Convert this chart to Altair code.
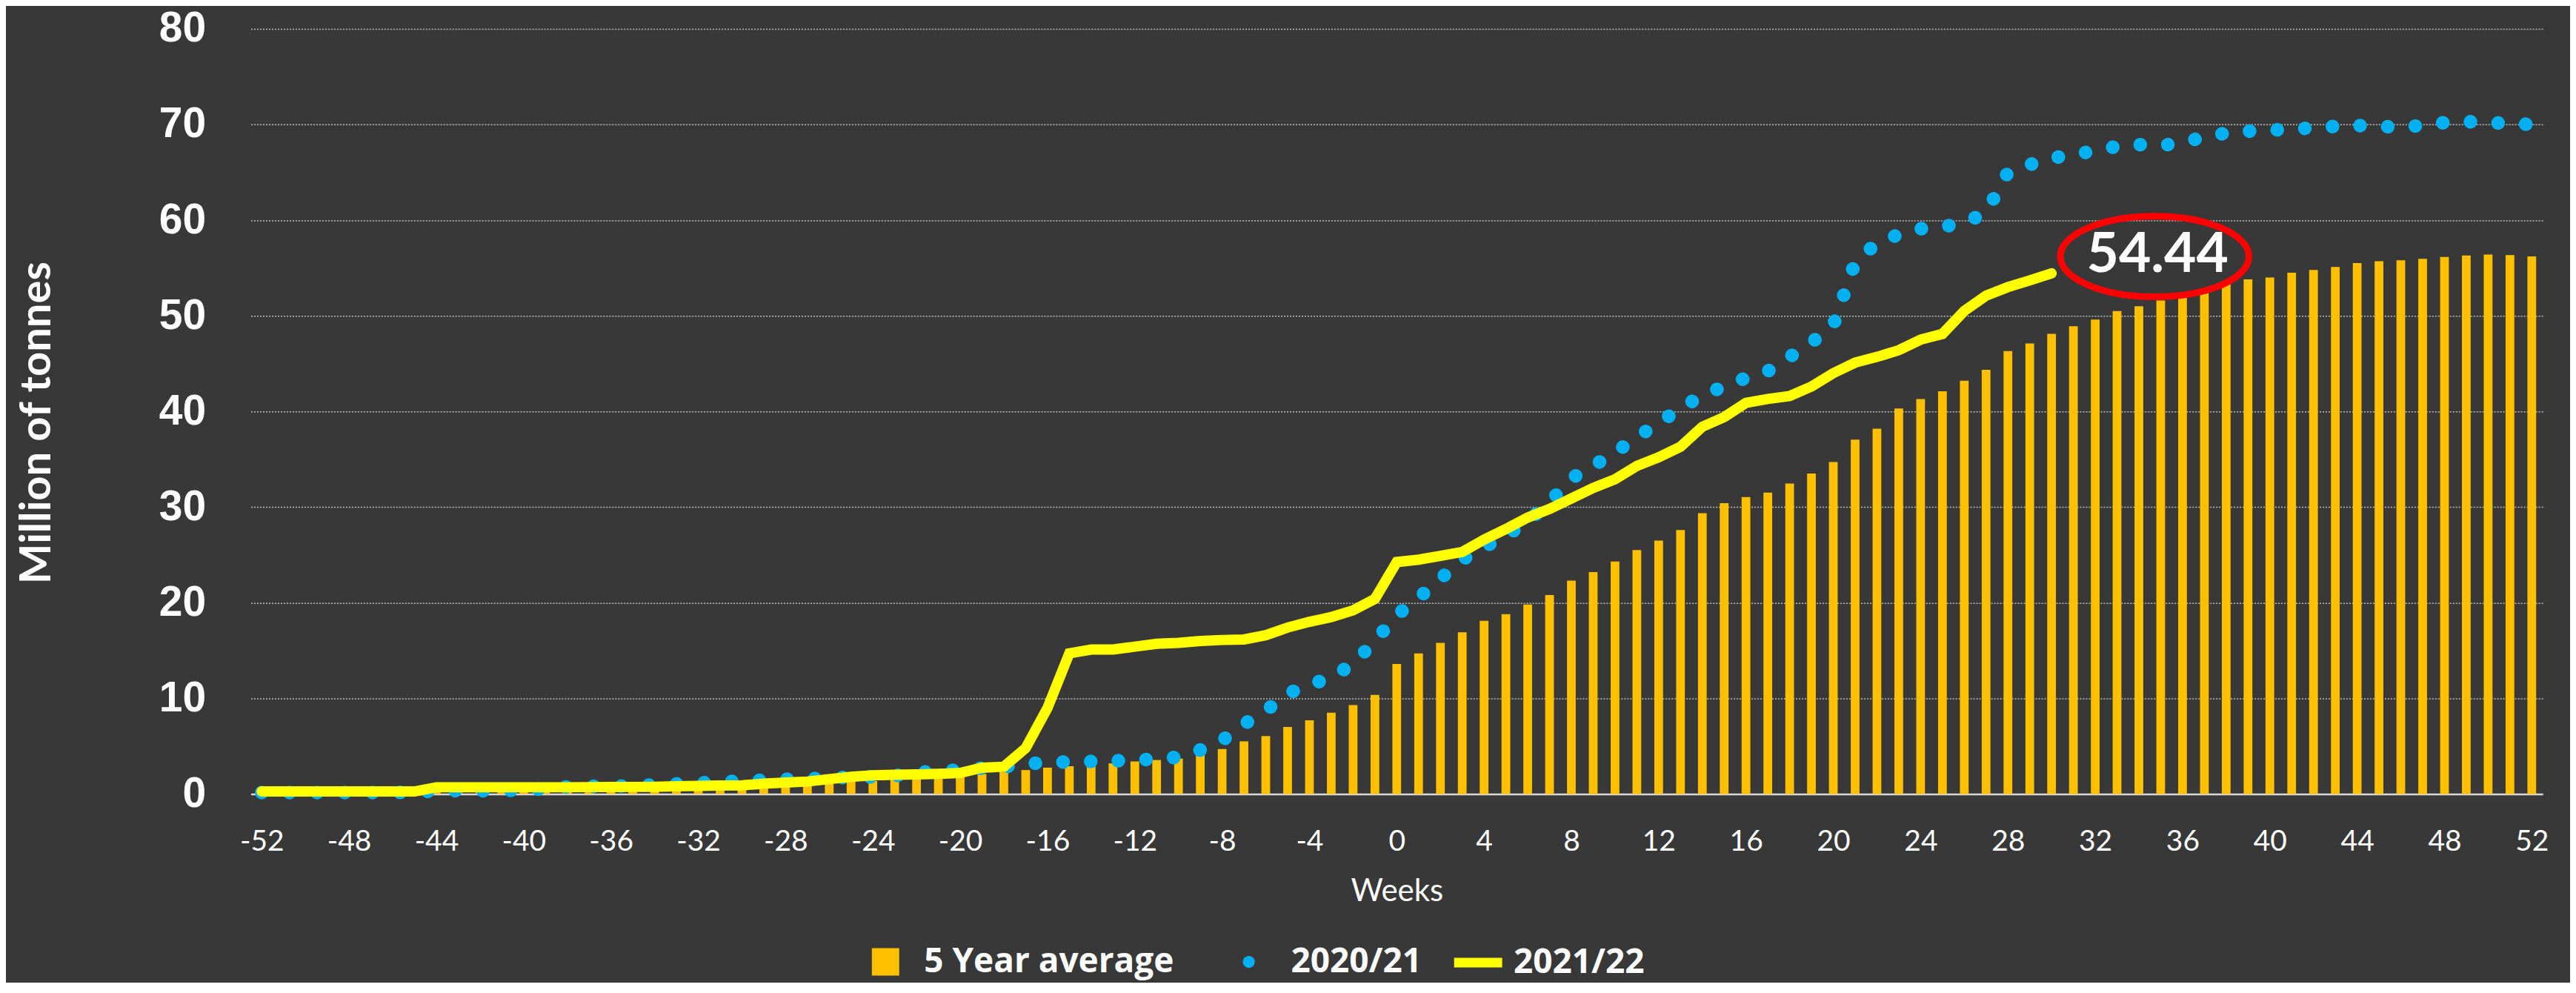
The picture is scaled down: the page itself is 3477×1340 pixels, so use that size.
import altair as alt
import pandas as pd

# ---------------- data ----------------
weeks = list(range(-52, 53))

avg5 = [
    0.05, 0.05, 0.1, 0.1, 0.1, 0.15, 0.15, 0.2,          # -52..-45
    0.3, 0.3, 0.35, 0.35, 0.4, 0.4, 0.45, 0.5,            # -44..-37
    0.55, 0.6, 0.65, 0.7, 0.75, 0.8, 0.85, 0.95,          # -36..-29
    1.0, 1.1, 1.2, 1.3, 1.35, 1.5, 1.7, 1.8,              # -28..-21
    1.9, 2.1, 2.3, 2.5, 2.75, 2.9, 3.05, 3.2,             # -20..-13
    3.4, 3.55, 3.7, 4.2, 4.7, 5.5, 6.05, 7.0,             # -12..-5
    7.7, 8.5, 9.3, 10.35,                                 # -4..-1
    13.6, 14.7, 15.8, 16.9, 18.1, 18.8, 19.8, 20.8,       # 0..7
    22.3, 23.2, 24.3, 25.5, 26.5, 27.6, 29.35, 30.4,      # 8..15
    31.05, 31.5, 32.45, 33.5, 34.7, 37.05, 38.2, 40.3,    # 16..23
    41.3, 42.1, 43.2, 44.35, 46.3, 47.1, 48.1, 48.9,      # 24..31
    49.6, 50.5, 51.0, 51.6, 52.1, 52.6, 53.35, 53.8,      # 32..39
    54.0, 54.5, 54.8, 55.1, 55.5, 55.7, 55.8, 55.95,      # 40..47
    56.15, 56.3, 56.4, 56.35, 56.2,                       # 48..52
]

y2020 = [
    0.15, 0.15, 0.15, 0.15, 0.15, 0.15, 0.15, 0.2,        # -52..-45
    0.3, 0.35, 0.35, 0.35, 0.4, 0.55, 0.75, 0.8,          # -44..-37
    0.8, 0.85, 0.95, 1.05, 1.15, 1.25, 1.35, 1.45,        # -36..-29
    1.55, 1.6, 1.65, 1.75, 1.8, 1.9, 2.2, 2.45,           # -28..-21
    2.5, 2.7, 2.85, 3.1, 3.35, 3.35, 3.4, 3.45,           # -20..-13
    3.55, 3.65, 3.85, 4.6, 5.6, 7.3, 8.7, 10.5,           # -12..-5
    11.4, 12.2, 13.6, 16.0,                               # -4..-1
    18.7, 20.5, 22.5, 24.5, 25.8, 27.0, 28.5, 30.5,       # 0..7
    33.0, 34.3, 35.7, 37.3, 38.8, 40.3, 41.7, 42.6,       # 8..15
    43.5, 44.2, 45.7, 47.2, 49.0, 55.6, 57.6, 58.5,       # 16..23
    59.1, 59.3, 59.7, 60.8, 65.0, 65.8, 66.5, 66.8,       # 24..31
    67.3, 67.7, 67.9, 67.8, 68.1, 68.7, 69.1, 69.3,       # 32..39
    69.4, 69.5, 69.65, 69.8, 69.9, 69.8, 69.7, 69.9,      # 40..47
    70.2, 70.3, 70.2, 70.1, 70.0,                         # 48..52
]

y2021 = [
    0.26, 0.26, 0.26, 0.26, 0.26, 0.26, 0.26, 0.26,       # -52..-45
    0.7, 0.7, 0.7, 0.7, 0.7, 0.7, 0.7, 0.72,              # -44..-37
    0.73, 0.74, 0.75, 0.8, 0.85, 0.88, 0.9, 1.08,         # -36..-29
    1.2, 1.3, 1.55, 1.8, 1.95, 2.0, 2.05, 2.1,            # -28..-21
    2.2, 2.75, 2.85, 4.8, 9.0, 14.7, 15.1, 15.1,          # -20..-13
    15.4, 15.7, 15.8, 16.0, 16.1, 16.15, 16.6, 17.4,      # -12..-5
    18.0, 18.5, 19.2, 20.4,                               # -4..-1
    24.25, 24.5, 24.9, 25.3, 26.6, 27.7, 28.9, 29.8,      # 0..7
    30.9, 32.0, 32.9, 34.3, 35.2, 36.3, 38.4, 39.4,       # 8..15
    40.9, 41.3, 41.6, 42.6, 44.0, 45.1, 45.7, 46.4,       # 16..23
    47.5, 48.1, 50.5, 52.1, 53.0, 53.7, 54.44,            # 24..30
]

series_names = ["5 Year average", "2020/21", "2021/22"]
y_ticks = [0, 10, 20, 30, 40, 50, 60, 70, 80]
x_ticks = list(range(-52, 53, 4))

# callout position (data units)
callout_week = 34.72
callout_value = 56.2

# ---------------- tables ----------------
df_avg = pd.DataFrame({"week": weeks, "value": avg5, "series": series_names[0]})
df_20 = pd.DataFrame({"week": weeks, "value": y2020, "series": series_names[1]})
df_21 = pd.DataFrame({"week": weeks[:len(y2021)], "value": y2021, "series": series_names[2]})
df_call = pd.DataFrame({"x": [callout_week], "y": [callout_value],
                        "label": [f"{y2021[-1]:.2f}"]})

# ---------------- styling ----------------
BG = "#383838"
GOLD = "#FFC000"
BLUE = "#00B0F0"
YELLOW = "#FFFF00"
WHITE = "#FFFFFF"

PLOT_W = 3098
PLOT_H = 1034

xscale = alt.Scale(domain=[-52.5, 52.5], nice=False, zero=False)
yscale = alt.Scale(domain=[0, 80], nice=False)

xaxis = alt.Axis(
    values=x_ticks, labelExpr="'' + datum.value", title="Weeks",
    labelFont="Lato", labelFontSize=39, labelColor=WHITE, labelBaseline="alphabetic",
    labelPadding=76, labelFlush=False, ticks=False, grid=False,
    domain=True, domainColor="#D9D9D9", domainWidth=2.5,
    titleFont="Lato", titleFontSize=42, titleFontWeight="normal", titleColor=WHITE,
    titleBaseline="alphabetic", titleAlign="center", titleX=PLOT_W / 2, titleY=144,
)
yaxis = alt.Axis(
    values=y_ticks, format="d", title="Million of tonnes",
    labelFont="Liberation Sans", labelFontSize=57, labelFontWeight="bold", labelColor=WHITE,
    labelPadding=61, ticks=False, domain=False,
    grid=True, gridColor="#BFBFBF", gridDash=[2, 2], gridWidth=1.5,
    titleFont="Lato", titleFontSize=58, titleFontWeight="bold", titleColor=WHITE,
    titleAngle=-90, titleBaseline="alphabetic", titleAlign="center",
    titleX=-271, titleY=532,
)


def legend(x, y, **kw):
    return alt.Legend(title=None, orient="none", legendX=x, legendY=y, padding=0,
                      labelFont="Open Sans", labelFontWeight="bold", labelFontSize=46,
                      labelColor=WHITE, labelLimit=0, **kw)


LEG_Y = 1238

bars = alt.Chart(df_avg).transform_calculate(
    x0="datum.week - 0.2", x1="datum.week + 0.2"
).mark_rect().encode(
    x=alt.X("x0:Q", scale=xscale, axis=xaxis),
    x2="x1:Q",
    y=alt.Y("value:Q", scale=yscale, axis=yaxis),
    y2=alt.datum(0),
    color=alt.Color("series:N",
                    scale=alt.Scale(domain=[series_names[0]], range=[GOLD]),
                    legend=legend(835, LEG_Y, symbolType="square", symbolSize=1369,
                                  symbolStrokeWidth=0, labelOffset=29)),
)

dots = alt.Chart(df_20).mark_line(strokeCap="round", strokeJoin="round").encode(
    x=alt.X("week:Q", scale=xscale, axis=xaxis),
    y=alt.Y("value:Q", scale=yscale, axis=yaxis),
    strokeDash=alt.value([0.1, 37.3]),
    strokeWidth=alt.value(18.5),
    color=alt.Color("series:N",
                    scale=alt.Scale(domain=[series_names[1]], range=[BLUE]),
                    legend=legend(1326, LEG_Y, symbolType="circle", symbolSize=265,
                                  symbolFillColor=BLUE, symbolStrokeWidth=0,
                                  labelOffset=34)),
)

line = alt.Chart(df_21).mark_line(strokeWidth=14, strokeCap="round").encode(
    x=alt.X("week:Q", scale=xscale, axis=xaxis),
    y=alt.Y("value:Q", scale=yscale, axis=yaxis),
    color=alt.Color("series:N",
                    scale=alt.Scale(domain=[series_names[2]], range=[YELLOW]),
                    legend=legend(1620, LEG_Y - 15, symbolType="stroke", symbolSize=4225,
                                  symbolStrokeWidth=13, labelOffset=9)),
)

ellipse_path = ("M -1 0 C -1 -0.236 -0.552 -0.4275 0 -0.4275 "
                "C 0.552 -0.4275 1 -0.236 1 0 "
                "C 1 0.236 0.552 0.4275 0 0.4275 "
                "C -0.552 0.4275 -1 0.236 -1 0 Z")

ring = alt.Chart(df_call).mark_point(
    shape=ellipse_path, filled=False, stroke="#FF0000", strokeWidth=9,
    size=65025, opacity=1,
).encode(
    x=alt.X("x:Q", scale=xscale, axis=xaxis),
    y=alt.Y("y:Q", scale=yscale, axis=yaxis),
)

callout = alt.Chart(df_call).mark_text(
    font="Lato", fontWeight="bold", fontSize=75, color=WHITE,
    align="center", baseline="middle", dx=4, dy=-2,
).encode(
    x=alt.X("x:Q", scale=xscale, axis=xaxis),
    y=alt.Y("y:Q", scale=yscale, axis=yaxis),
    text="label:N",
)

chart = alt.layer(bars, dots, line, ring, callout).resolve_scale(
    color="independent"
).properties(
    width=PLOT_W, height=PLOT_H,
    background=BG,
    padding={"left": 331, "top": 30, "right": 37, "bottom": 254},
    autosize=alt.AutoSizeParams(type="none"),
).configure_view(stroke=None)

chart.save("out.html", embed_options={"renderer": "svg", "actions": False})
